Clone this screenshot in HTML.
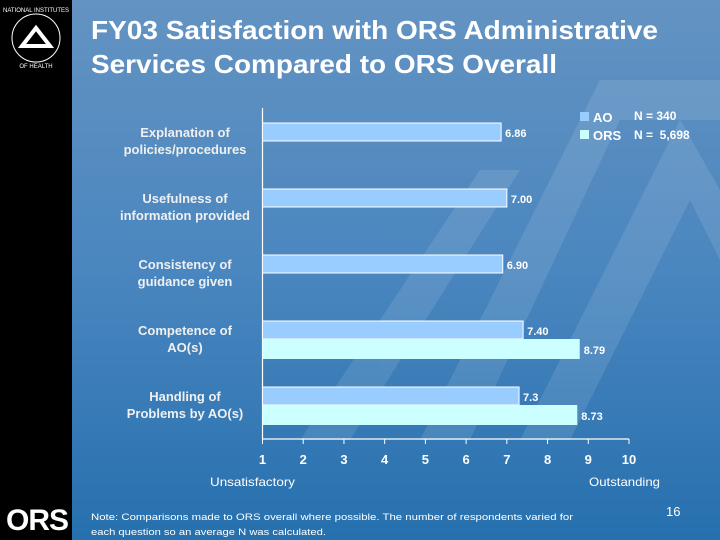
<!DOCTYPE html>
<html><head><meta charset="utf-8"><style>
body{margin:0;width:720px;height:540px;overflow:hidden;font-family:"Liberation Sans",sans-serif}
#bg{position:absolute;left:0;top:0;width:720px;height:540px;background:linear-gradient(#6393c2,#4a86bf 50%,#2670ae)}
#strip{position:absolute;left:0;top:0;width:72px;height:540px;background:#000}
</style></head><body>
<div id="bg"></div>
<div id="strip"></div>
<svg width="720" height="540" style="position:absolute;left:0;top:0">
<g opacity="0.1" fill="#fff">
<polygon points="420,440 600,80 720,80 720,120 620,120 470,440"/>
<polygon points="520,440 680,120 720,190 720,260 690,200 570,440"/>
<polygon points="300,440 480,170 520,170 350,440"/>
</g>
<g>
<circle cx="36" cy="38" r="24" fill="none" stroke="#fff" stroke-width="1"/>
<polygon points="36,28 50,46 22,46" fill="none" stroke="#fff" stroke-width="4"/>
<text x="36" y="12" font-size="6" fill="#fff" text-anchor="middle">NATIONAL INSTITUTES</text>
<text x="36" y="68" font-size="6" fill="#fff" text-anchor="middle">OF HEALTH</text>
</g>
<text x="6" y="530" font-size="30" font-weight="bold" fill="#fff" letter-spacing="-1">ORS</text>
<text x="91" y="39" font-size="26" font-weight="bold" fill="#fff" textLength="567" lengthAdjust="spacingAndGlyphs">FY03 Satisfaction with ORS Administrative</text>
<text x="91" y="73" font-size="26" font-weight="bold" fill="#fff" textLength="466" lengthAdjust="spacingAndGlyphs">Services Compared to ORS Overall</text>
<g id="chart"></g>
<g>
<rect x="580" y="112" width="9" height="9" fill="#99ccff"/>
<text x="593" y="122" font-size="13" font-weight="bold" fill="#fff">AO</text>
<rect x="580" y="130" width="9" height="9" fill="#ccffff"/>
<text x="593" y="140" font-size="13" font-weight="bold" fill="#fff">ORS</text>
<text x="634" y="120" font-size="12" font-weight="bold" fill="#fff">N = 340</text>
<text x="634" y="139" font-size="12" font-weight="bold" fill="#fff" xml:space="preserve">N =  5,698</text>
</g>
<text x="210" y="486" font-size="12" fill="#fff" textLength="85" lengthAdjust="spacingAndGlyphs">Unsatisfactory</text>
<text x="589" y="486" font-size="12" fill="#fff" textLength="71" lengthAdjust="spacingAndGlyphs">Outstanding</text>
<text x="91" y="520" font-size="9.5" fill="#fff" textLength="482" lengthAdjust="spacingAndGlyphs">Note:  Comparisons made to ORS overall where possible.  The number of respondents varied for</text>
<text x="91" y="535" font-size="9.5" fill="#fff" textLength="235" lengthAdjust="spacingAndGlyphs">each question so an average N was calculated.</text>
<text x="666" y="516" font-size="13" fill="#fff">16</text>
</svg>
<script>
const categories=[["Explanation of","policies/procedures"],["Usefulness of","information provided"],["Consistency of","guidance given"],["Competence of","AO(s)"],["Handling of","Problems by AO(s)"]];
const aoValues=[6.86,7.00,6.90,7.40,7.3];
const aoLabels=["6.86","7.00","6.90","7.40","7.3"];
const orsValues=[null,null,null,8.79,8.73];
const orsLabels=["","","","8.79","8.73"];
const ticks=[1,2,3,4,5,6,7,8,9,10];
const NS="http://www.w3.org/2000/svg";
const g=document.getElementById('chart');
const x0=262.5,x1=629,axisY=439,top0=108;
function xs(v){return x0+(v-1)*(x1-x0)/9;}
function cy(i){return 123+i*66;}
function mk(t,a){const e=document.createElementNS(NS,t);for(const k in a)e.setAttribute(k,a[k]);g.appendChild(e);return e;}
let ax=mk('line',{x1:x0,y1:top0,x2:x0,y2:axisY,stroke:'#fff','stroke-width':1.2});


let bx=mk('line',{x1:x0,y1:axisY,x2:x1,y2:axisY,stroke:'#fff','stroke-width':1.2});


ticks.forEach(t=>{
 let l=mk('line',{x1:xs(t),y1:axisY,x2:xs(t),y2:axisY+5,stroke:'#fff'});
 
 
 let tx=mk('text',{x:xs(t),y:axisY+25,'font-size':13,'font-weight':'bold',fill:'#fff','text-anchor':'middle'});
 tx.textContent=t;
 
 
});
categories.forEach((c,i)=>{
 const y=cy(i);
 let r=mk('rect',{x:x0,y:y,width:xs(aoValues[i])-x0,height:18,fill:'#99ccff',stroke:'#fff','stroke-width':1});
 
 
 let t=mk('text',{x:xs(aoValues[i])+4,y:y+14,'font-size':11,'font-weight':'bold',fill:'#fff'});
 t.textContent=aoLabels[i];
 
 
 if(orsValues[i]!=null){
  let r2=mk('rect',{x:x0,y:y+18,width:xs(orsValues[i])-x0,height:20,fill:'#ccffff'});
  
  
  let t2=mk('text',{x:xs(orsValues[i])+4,y:y+33,'font-size':11,'font-weight':'bold',fill:'#fff'});
  t2.textContent=orsLabels[i];
  
  
 }
 c.forEach((line,j)=>{
  let lt=mk('text',{x:185,y:y+14+j*17,'font-size':13,'font-weight':'bold',fill:'#f0f0f0','text-anchor':'middle'});
  lt.textContent=line;
  
  
 });
});
</script>
</body></html>
